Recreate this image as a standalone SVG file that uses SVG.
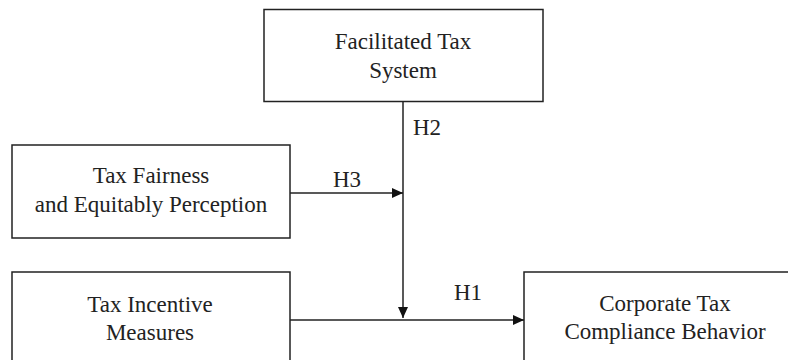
<svg xmlns="http://www.w3.org/2000/svg" width="788" height="360" viewBox="0 0 788 360">
<style>
.box{fill:#fff;stroke:#222;stroke-width:1.5}
.t{font-family:'Liberation Serif','Times New Roman',serif;font-size:23px;fill:#222;text-anchor:middle}
.l{font-family:'Liberation Serif','Times New Roman',serif;font-size:23px;fill:#222}
.c{stroke:#222;stroke-width:1.5;fill:none}
</style>
<defs>
<marker id="ah" markerWidth="11" markerHeight="10" refX="11" refY="5" orient="auto" markerUnits="userSpaceOnUse">
<path d="M0,0 L11,5 L0,10 Z" fill="#111"/>
</marker>
</defs>
<rect width="788" height="360" fill="#fff"/>
<g id="facilitated">
<rect class="box" x="264" y="9.5" width="279" height="92"/>
<text class="t" x="403" y="49">Facilitated Tax</text>
<text class="t" x="403" y="78">System</text>
</g>
<g id="fairness">
<rect class="box" x="12" y="145" width="278" height="93"/>
<text class="t" x="151" y="183">Tax Fairness</text>
<text class="t" x="151" y="212">and Equitably Perception</text>
</g>
<g id="incentive">
<rect class="box" x="12" y="272" width="278" height="100"/>
<text class="t" x="150" y="312">Tax Incentive</text>
<text class="t" x="150" y="340">Measures</text>
</g>
<g id="compliance">
<rect class="box" x="524" y="272" width="282" height="100"/>
<text class="t" x="665" y="311">Corporate Tax</text>
<text class="t" x="665" y="339">Compliance Behavior</text>
</g>
<g id="connectors">
<line class="c" x1="403" y1="101.5" x2="403" y2="318" marker-end="url(#ah)"/>
<line class="c" x1="290" y1="193" x2="403" y2="193" marker-end="url(#ah)"/>
<line class="c" x1="290" y1="320" x2="524" y2="320" marker-end="url(#ah)"/>
<text class="l" x="413" y="135">H2</text>
<text class="l" x="333" y="187">H3</text>
<text class="l" x="454" y="300">H1</text>
</g>
</svg>
